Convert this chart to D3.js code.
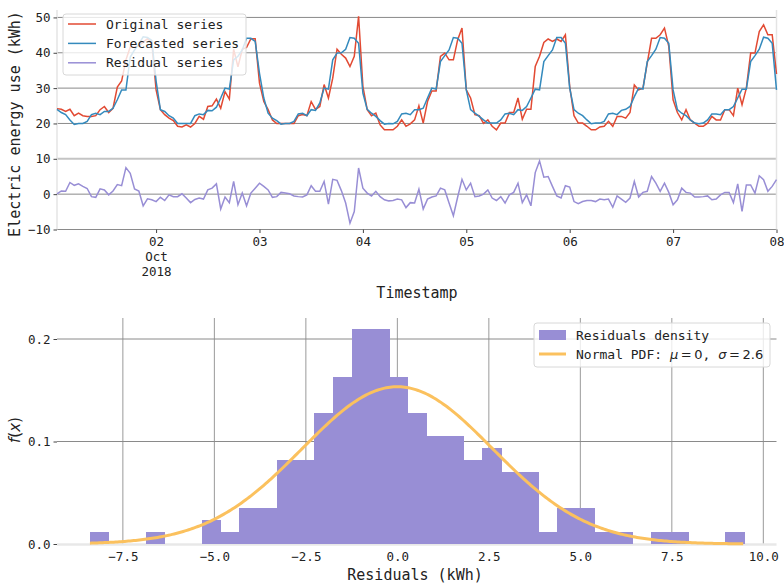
<!DOCTYPE html>
<html>
<head>
<meta charset="utf-8">
<title>Residuals</title>
<script src="https://cdn.jsdelivr.net/npm/d3@7"></script>
<style>
  body { margin: 0; background: #fff; }
  text { font-family: "DejaVu Sans Mono", monospace; fill: #222; }
</style>
</head>
<body>
<script>
// hourly readings, 2018-10-01 01:00 .. 2018-10-08 00:00
var startHour = new Date(2018, 9, 1, 1);

var original = [24.2,24,23.4,24,22.2,22.9,22.2,22,22,22.2,23.9,24.8,23.1,24.3,30.3,32,38,41.6,41.6,42,43,44,43,29.5,
  23.9,22.5,21.5,20.8,19.2,19,19.6,19,20,22,21.2,24.8,25,26.9,24.3,29,26.9,41,36,41,41.5,44,44,31.4,
  26.2,23.9,21,20,20,20,20,20,22.2,22.5,22.2,26.2,24,24.8,31,27.2,32.8,41,39.6,38.5,36.1,39,50.3,30.5,
  23.9,22.2,22.9,19.6,18.2,18.2,18.2,19.2,21,19.2,19.9,21,25,20.1,26.2,29.2,29.2,39,39.9,38,38,43.7,47,29.5,
  27.2,22.5,22.2,20,21,19.2,18.2,20.1,20.1,23.1,23.1,27.2,21.2,24,24,36.1,39,42.9,43.9,43.2,43.9,43.2,45.1,30.5,
  22.2,20.1,20.1,19.2,18.2,18.2,19,19.2,20.6,19.2,22,22,21.5,23.1,30.9,29.5,30,37.1,44.1,44.1,45.1,47,41.8,26.7,
  23.1,21,23.9,21,20.1,19.2,19.2,20.1,22,21,21,23.9,23.9,22.2,30,25.3,30,39.9,39.9,46,47.9,45.1,45.1,34];

var forecast = [24,23.1,22.5,21,19.7,20,20,20.6,22.5,22.9,22.5,23.4,23.4,24.3,26.7,29.5,29.5,38.8,40.8,42.5,44.5,44.3,43.5,32,
  23.9,23.4,22.2,21.5,20,20,20,20,22.2,22.7,22.5,23.7,23.6,24.6,27.2,30,29.7,38,39,40.8,44.1,44.1,43.2,34.2,
  27.2,22.9,21.5,20.8,19.8,20,20,20.6,22.7,22.9,22.2,23.9,23.7,25.8,30,29.7,38,39.9,40,41,44.3,44.1,42.7,28.6,
  24,22.9,22,20.8,19.8,20,19.9,20.6,22.7,22.9,22.5,23.9,23.9,24.3,27.2,30,29.7,37.5,39.2,40.8,44.3,44.1,42.7,29.5,
  23.9,22.9,22,21,20.1,20.1,20.1,21,22.7,22.9,22.5,23.9,23.7,24.8,27.2,29.7,29.5,37.5,39.2,40.8,44.3,44.3,42.7,30,
  23.9,22.9,22.2,21,19.9,20.1,20.1,20.6,22.7,22.9,22.5,23.7,24,24.8,27.6,30,29.7,37.5,39.2,41,44.3,44.1,42.7,29.5,
  23.9,22.9,22.2,21,20.1,19.9,20.1,21,22.7,22.7,22.5,23.9,23.9,24.8,27.2,29.7,29.7,37.5,39.2,41,44.4,44.1,42.7,29.5];

var residual = [0.1,0.9,0.8,3.3,2.5,2.9,2.2,1.6,-0.7,-0.9,1.5,1.2,-0.2,0.9,2.7,2.4,7.5,5.9,1.5,0.9,-3.3,-1.3,-1.6,-2.1,
  -0.9,-1.8,-0.2,-0.7,-0.7,0.1,-1.1,-2.4,-1.5,-1.1,-1.4,1.2,1.7,2.9,-4.2,-0.8,-2.4,3.6,-3,0.3,-3.3,0.3,1.7,3.1,
  2.2,1.2,-0.9,-0.7,0.5,0.3,0.1,-0.5,-0.7,-0.8,-0.2,2.4,0.8,0.8,3.6,-2.8,4.2,3.9,1,-2.5,-8.2,-4.9,7.4,1.7,
  0.3,-0.5,0.8,-0.7,-1.6,-1.9,-1.8,-1.4,-1.6,-3.8,-2.4,-2.5,1.4,-4.2,-1.4,-0.8,-0.5,1.7,1.2,-2.5,-6.1,-0.8,4.2,1.2,
  3.1,-0.7,-0.5,0,1.2,-1.1,-1.8,-0.7,-2.5,-0.2,0.5,3.1,-2.4,-0.2,-3.3,6.1,9.4,4.8,5,2.2,-0.5,-1.1,2.4,2,
  -2.1,-2.7,-2.1,-1.8,-1.8,-2.1,-1.4,-1.6,-1.4,-3.7,-0.5,-1.4,-2.3,-1.1,3.6,-0.8,0.5,0.8,5,3.1,0.8,3.1,0.5,-3,
  -1.6,1.7,0.5,0.3,-0.8,-0.8,-0.7,-0.5,-1.6,-1.4,-0.2,0.5,0.5,-2.4,2.9,-4.9,2.6,2.6,0.3,5.2,4.1,0.8,2.2,4.1];

var yTicksTop = [-10, 0, 10, 20, 30, 40, 50];
var dayTicks = [2, 3, 4, 5, 6, 7, 8];

// histogram of residuals (density)
var binEdges = [-8.400,-7.889,-7.379,-6.868,-6.357,-5.847,-5.336,-4.825,-4.314,-3.804,-3.293,-2.782,
  -2.272,-1.761,-1.250,-0.740,-0.229,0.282,0.793,1.303,1.814,2.325,2.835,3.346,3.857,4.368,4.878,
  5.389,5.900,6.410,6.921,7.432,7.942,8.453,8.964,9.475];
var density = [0.0117,0,0,0.0117,0,0,0.0233,0.0117,0.035,0.035,0.0816,0.0816,0.1282,0.1632,0.2098,0.2098,
  0.1632,0.1282,0.1049,0.1049,0.0816,0.0932,0.0699,0.0699,0.0117,0.035,0.035,0.0117,0.0117,0,0.0117,0.0117,0,0,0.0117];
var mu = 0, sigma = 2.6;
var xTicksBottom = [-7.5, -5.0, -2.5, 0.0, 2.5, 5.0, 7.5, 10.0];
var yTicksBottom = [0.0, 0.1, 0.2];

var colors = {orig: "#E24A33", fc: "#348ABD", res: "#988ED5", pdf: "#FBC15E"};

var svg = d3.select("body").append("svg")
  .attr("width", 784).attr("height", 587);

// ---------- top chart ----------
var times = original.map(function(d, i) { return d3.timeHour.offset(startHour, i); });
var xT = d3.scaleTime().domain([times[0], times[times.length - 1]]).range([57, 776.5]);
var yT = d3.scaleLinear().domain([-10, 52.1]).range([229.5, 10]);

var gTop = svg.append("g");

gTop.selectAll(".hgrid").data(yTicksTop).enter().append("line")
  .attr("x1", 57).attr("x2", 776.5)
  .attr("y1", function(d) { return yT(d); }).attr("y2", function(d) { return yT(d); })
  .attr("stroke", function(d) { return d === 10 ? "#c4c4c4" : "#8a8a8a"; })
  .attr("stroke-width", function(d) { return d === 10 ? 2 : 1; });

[57, 776.5].forEach(function(x) {
  gTop.append("line").attr("x1", x).attr("x2", x).attr("y1", 10).attr("y2", 229.5)
    .attr("stroke", "#e4e4e4").attr("stroke-width", 1.5);
});

var yAxisT = gTop.append("g").attr("transform", "translate(57,0)")
  .call(d3.axisLeft(yT).tickValues(yTicksTop).tickSize(3.5).tickPadding(3));
yAxisT.select(".domain").remove();

var dayDates = dayTicks.map(function(d) { return new Date(2018, 9, d); });
var xAxisT = gTop.append("g").attr("transform", "translate(0,229.5)")
  .call(d3.axisBottom(xT).tickValues(dayDates).tickSize(3.5).tickPadding(4)
    .tickFormat(d3.timeFormat("%d")));
xAxisT.select(".domain").remove();
xAxisT.selectAll("text").filter(function(d, i) { return i === 0; })
  .each(function() {
    var t = d3.select(this);
    t.append("tspan").attr("x", 0).attr("dy", "1.2em").text("Oct");
    t.append("tspan").attr("x", 0).attr("dy", "1.2em").text("2018");
  });

[yAxisT, xAxisT].forEach(function(a) {
  a.attr("font-family", null).attr("font-size", 12.5);
  a.selectAll(".tick line").attr("stroke", "#444");
});

var line = d3.line()
  .x(function(d, i) { return xT(times[i]); })
  .y(function(d) { return yT(d); });

gTop.append("path").datum(original).attr("d", line)
  .attr("fill", "none").attr("stroke", colors.orig).attr("stroke-width", 1.5);
gTop.append("path").datum(forecast).attr("d", line)
  .attr("fill", "none").attr("stroke", colors.fc).attr("stroke-width", 1.5);
gTop.append("path").datum(residual).attr("d", line)
  .attr("fill", "none").attr("stroke", colors.res).attr("stroke-width", 1.5);

gTop.append("text").attr("x", 417).attr("y", 298).attr("text-anchor", "middle")
  .attr("font-size", 15).text("Timestamp");
gTop.append("text").attr("transform", "translate(20,124) rotate(-90)")
  .attr("text-anchor", "middle").attr("font-size", 15).text("Electric energy use (kWh)");

// legend
var lg = gTop.append("g");
lg.append("rect").attr("x", 63).attr("y", 14).attr("width", 183).attr("height", 61).attr("rx", 3)
  .attr("fill", "#fff").attr("fill-opacity", 0.8).attr("stroke", "#d8d8d8");
[["Original series", colors.orig], ["Forecasted series", colors.fc], ["Residual series", colors.res]]
  .forEach(function(e, i) {
    var yy = 24 + i * 19.4;
    lg.append("line").attr("x1", 68).attr("x2", 96).attr("y1", yy).attr("y2", yy)
      .attr("stroke", e[1]).attr("stroke-width", 1.5);
    lg.append("text").attr("x", 106).attr("y", yy).attr("dy", "0.35em")
      .attr("font-size", 13).text(e[0]);
  });

// ---------- bottom chart ----------
var xB = d3.scaleLinear().domain([-9.30, 10.36]).range([57, 776.5]);
var yB = d3.scaleLinear().domain([0, 0.2205]).range([544, 318]);

var gBot = svg.append("g");

gBot.selectAll(".vgrid").data(xTicksBottom).enter().append("line")
  .attr("x1", function(d) { return xB(d); }).attr("x2", function(d) { return xB(d); })
  .attr("y1", 318).attr("y2", 544).attr("stroke", "#9a9a9a").attr("stroke-width", 1);
gBot.selectAll(".hgrid").data(yTicksBottom.slice(1)).enter().append("line")
  .attr("x1", 57).attr("x2", 776.5)
  .attr("y1", function(d) { return yB(d); }).attr("y2", function(d) { return yB(d); })
  .attr("stroke", "#8a8a8a").attr("stroke-width", 1);
gBot.append("line").attr("x1", 57).attr("x2", 776.5).attr("y1", 544.5).attr("y2", 544.5)
  .attr("stroke", "#e8e8e8").attr("stroke-width", 2.5);

gBot.selectAll(".bar").data(density).enter().append("rect")
  .attr("x", function(d, i) { return xB(binEdges[i]); })
  .attr("width", function(d, i) { return xB(binEdges[i + 1]) - xB(binEdges[i]) + 0.6; })
  .attr("y", function(d) { return yB(d); })
  .attr("height", function(d) { return yB(0) - yB(d); })
  .attr("shape-rendering", "crispEdges")
  .attr("fill", colors.res);

var pdfX = d3.range(binEdges[0], binEdges[binEdges.length - 1] + 0.001, 0.05);
var pdf = d3.line()
  .x(function(d) { return xB(d); })
  .y(function(d) { return yB(Math.exp(-0.5 * Math.pow((d - mu) / sigma, 2)) / (sigma * Math.sqrt(2 * Math.PI))); });
gBot.append("path").datum(pdfX).attr("d", pdf)
  .attr("fill", "none").attr("stroke", colors.pdf).attr("stroke-width", 3);

var yAxisB = gBot.append("g").attr("transform", "translate(57,0)")
  .call(d3.axisLeft(yB).tickValues(yTicksBottom).tickSize(3.5).tickPadding(3).tickFormat(d3.format(".1f")));
yAxisB.select(".domain").remove();
var xAxisB = gBot.append("g").attr("transform", "translate(0,544)")
  .call(d3.axisBottom(xB).tickValues(xTicksBottom).tickSize(0).tickPadding(8).tickFormat(d3.format(".1f")));
xAxisB.select(".domain").remove();
[yAxisB, xAxisB].forEach(function(a) {
  a.attr("font-family", null).attr("font-size", 12.5);
  a.selectAll(".tick line").attr("stroke", "#444");
});

gBot.append("text").attr("x", 415).attr("y", 580).attr("text-anchor", "middle")
  .attr("font-size", 15).text("Residuals (kWh)");
var fx = gBot.append("text").attr("transform", "translate(20,430) rotate(-90)")
  .attr("text-anchor", "middle").attr("font-size", 15).style("font-family", "DejaVu Sans");
fx.append("tspan").attr("font-style", "italic").text("f");
fx.append("tspan").text("(");
fx.append("tspan").attr("font-style", "italic").text("x");
fx.append("tspan").text(")");

// legend
var lg2 = gBot.append("g");
lg2.append("rect").attr("x", 534).attr("y", 323).attr("width", 236).attr("height", 44).attr("rx", 3)
  .attr("fill", "#fff").attr("fill-opacity", 0.8).attr("stroke", "#d8d8d8");
lg2.append("rect").attr("x", 539).attr("y", 330).attr("width", 27).attr("height", 10).attr("fill", colors.res);
lg2.append("text").attr("x", 576).attr("y", 335).attr("dy", "0.35em").attr("font-size", 13).text("Residuals density");
lg2.append("line").attr("x1", 539).attr("x2", 566).attr("y1", 354).attr("y2", 354)
  .attr("stroke", colors.pdf).attr("stroke-width", 3);
var t2 = lg2.append("text").attr("x", 576).attr("y", 354).attr("dy", "0.35em").attr("font-size", 13);
t2.append("tspan").text("Normal PDF: ");
t2.append("tspan").style("font-family", "DejaVu Sans").attr("font-style", "italic").text("\u03bc");
t2.append("tspan").style("font-family", "DejaVu Sans").text("\u2009=\u20090");
t2.append("tspan").text(", ");
t2.append("tspan").style("font-family", "DejaVu Sans").attr("font-style", "italic").text("\u03c3");
t2.append("tspan").style("font-family", "DejaVu Sans").text("\u2009=\u20092.6");
</script>
</body>
</html>
